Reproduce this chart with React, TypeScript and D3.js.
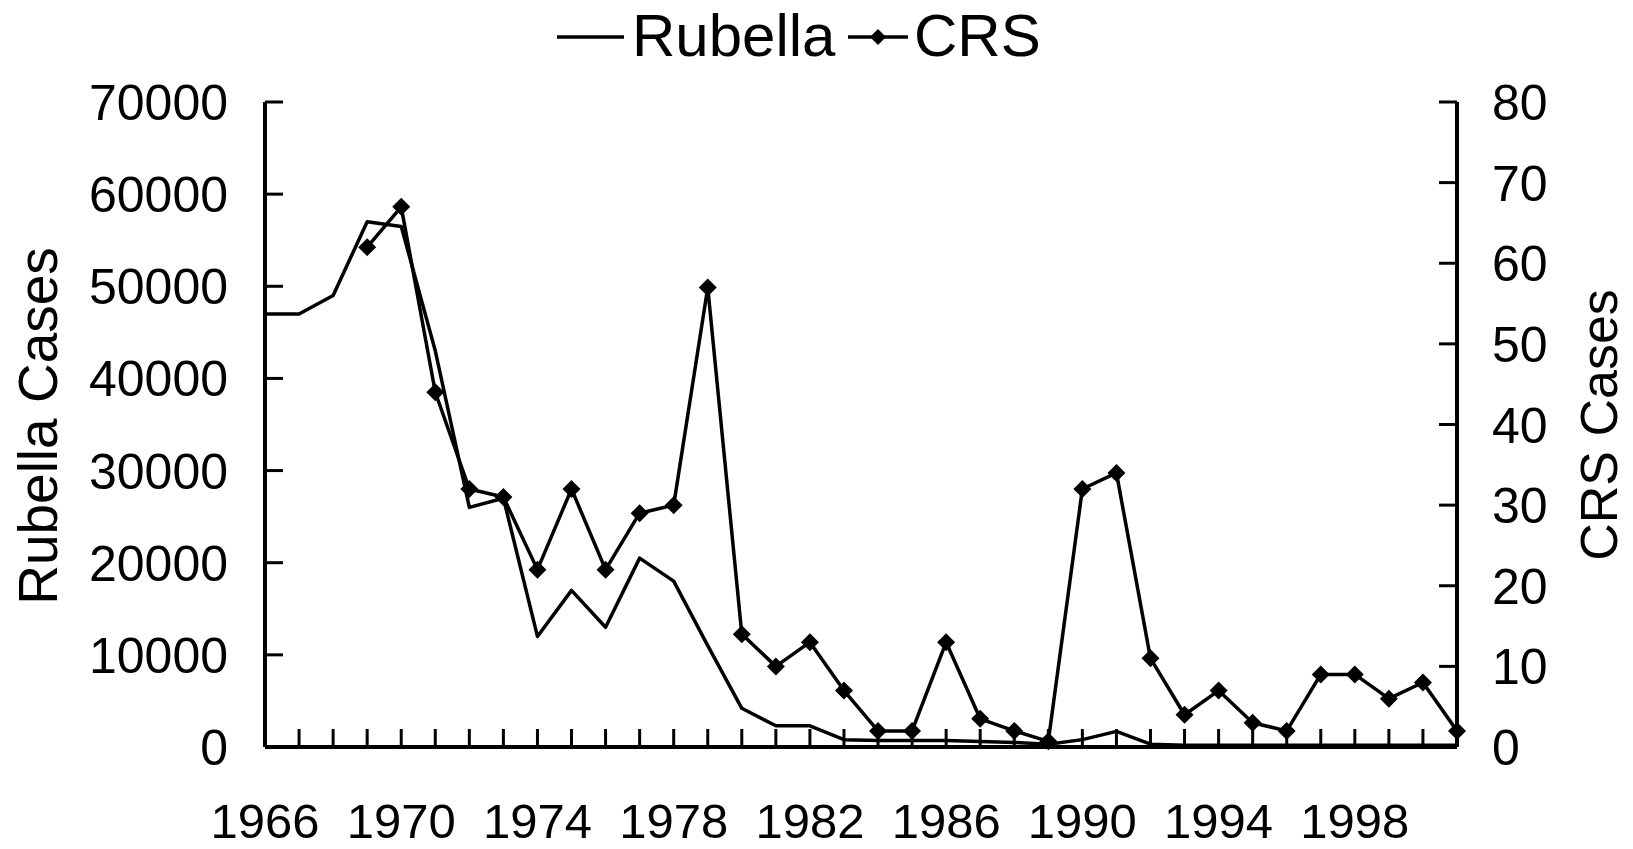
import React from "react";
import * as d3 from "d3";

const years: number[] = d3.range(1966, 2002);
const rubellaYears: number[] = years;
const rubellaCases: number[] = [
  47000, 47000, 49000, 57000, 56500, 43000, 26000, 27000, 12000, 17000,
  13000, 20500, 18000, 11000, 4200, 2300, 2300, 800, 700, 700,
  700, 600, 500, 300, 800, 1700, 300, 200, 200, 200,
  200, 200, 200, 200, 200, 200,
];
const crsYears: number[] = d3.range(1969, 2002);
const crsCases: number[] = [
  62, 67, 44, 32, 31, 22, 32, 22, 29, 30,
  57, 14, 10, 13, 7, 2, 2, 13, 3.5, 2,
  0.7, 32, 34, 11, 4, 7, 3, 2, 9, 9,
  6, 8, 2,
];
const leftTicks: number[] = [0, 10000, 20000, 30000, 40000, 50000, 60000, 70000];
const rightTicks: number[] = [0, 10, 20, 30, 40, 50, 60, 70, 80];
const xLabelYears: number[] = [1966, 1970, 1974, 1978, 1982, 1986, 1990, 1994, 1998];

const W = 1633;
const H = 849;
const FONT = "'Liberation Sans', Arial, Helvetica, sans-serif";

export default function App() {
  const x = d3.scaleLinear().domain([1966, 2001]).range([265, 1457]);
  const yL = d3.scaleLinear().domain([0, 70000]).range([747, 102]);
  const yR = d3.scaleLinear().domain([0, 80]).range([747, 102]);

  const rubLine = d3
    .line<number>()
    .x((_, i) => x(rubellaYears[i]))
    .y((d) => yL(d))(rubellaCases) as string;
  const crsLine = d3
    .line<number>()
    .x((_, i) => x(crsYears[i]))
    .y((d) => yR(d))(crsCases) as string;

  const diamond = (cx: number, cy: number, r: number) =>
    `M${cx},${cy - r}L${cx + r},${cy}L${cx},${cy + r}L${cx - r},${cy}Z`;

  const x0 = x.range()[0];
  const x1 = x.range()[1];
  const yb = yL.range()[0];
  const yt = yL.range()[1];
  const tickLen = 18;

  return (
    <svg
      width={W}
      height={H}
      style={{ position: "absolute", left: 0, top: 0, background: "#fff" }}
      fontFamily={FONT}
    >
      <rect x={0} y={0} width={W} height={H} fill="#fff" />

      {/* Legend */}
      <g>
        <line x1={557} x2={624} y1={37} y2={37} stroke="#000" strokeWidth={3.5} />
        <text x={632} y={56} fontSize={60} fill="#000">Rubella</text>
        <line x1={848} x2={908} y1={37} y2={37} stroke="#000" strokeWidth={3.5} />
        <path d={diamond(878, 37, 8)} fill="#000" />
        <text x={914} y={56} fontSize={60} fill="#000">CRS</text>
      </g>

      {/* X ticks */}
      {years.map((yr) => (
        <line
          key={"xt" + yr}
          x1={x(yr)}
          x2={x(yr)}
          y1={yb}
          y2={yb - tickLen}
          stroke="#000"
          strokeWidth={3}
        />
      ))}
      {xLabelYears.map((yr) => (
        <text
          key={"xl" + yr}
          x={x(yr)}
          y={838}
          fontSize={49}
          textAnchor="middle"
          fill="#000"
        >
          {yr}
        </text>
      ))}

      {/* Left axis */}
      {leftTicks.map((v) => (
        <g key={"lt" + v}>
          <line x1={x0} x2={x0 + tickLen} y1={yL(v)} y2={yL(v)} stroke="#000" strokeWidth={3} />
          <text
            x={228}
            y={yL(v)}
            dy="0.36em"
            fontSize={50}
            textAnchor="end"
            fill="#000"
          >
            {v}
          </text>
        </g>
      ))}

      {/* Right axis */}
      {rightTicks.map((v) => (
        <g key={"rt" + v}>
          <line x1={x1} x2={x1 - tickLen} y1={yR(v)} y2={yR(v)} stroke="#000" strokeWidth={3} />
          <text x={1492} y={yR(v)} dy="0.36em" fontSize={50} textAnchor="start" fill="#000">
            {v}
          </text>
        </g>
      ))}

      {/* Axis lines */}
      <line x1={x0} x2={x0} y1={yt} y2={yb} stroke="#000" strokeWidth={4} />
      <line x1={x1} x2={x1} y1={yt} y2={yb} stroke="#000" strokeWidth={4} />
      <line x1={x0} x2={x1} y1={yb} y2={yb} stroke="#000" strokeWidth={4} />

      {/* Axis titles */}
      <text
        transform={`translate(57, 426) rotate(-90)`}
        fontSize={55}
        textAnchor="middle"
        fill="#000"
      >
        Rubella Cases
      </text>
      <text
        transform={`translate(1617, 425) rotate(-90)`}
        fontSize={52}
        textAnchor="middle"
        fill="#000"
      >
        CRS Cases
      </text>

      {/* Series */}
      <path d={rubLine} fill="none" stroke="#000" strokeWidth={3.5} strokeLinejoin="round" />
      <path d={crsLine} fill="none" stroke="#000" strokeWidth={3.5} strokeLinejoin="round" />
      {crsCases.map((v, i) => (
        <path key={"m" + i} d={diamond(x(crsYears[i]), yR(v), 9)} fill="#000" />
      ))}
    </svg>
  );
}
